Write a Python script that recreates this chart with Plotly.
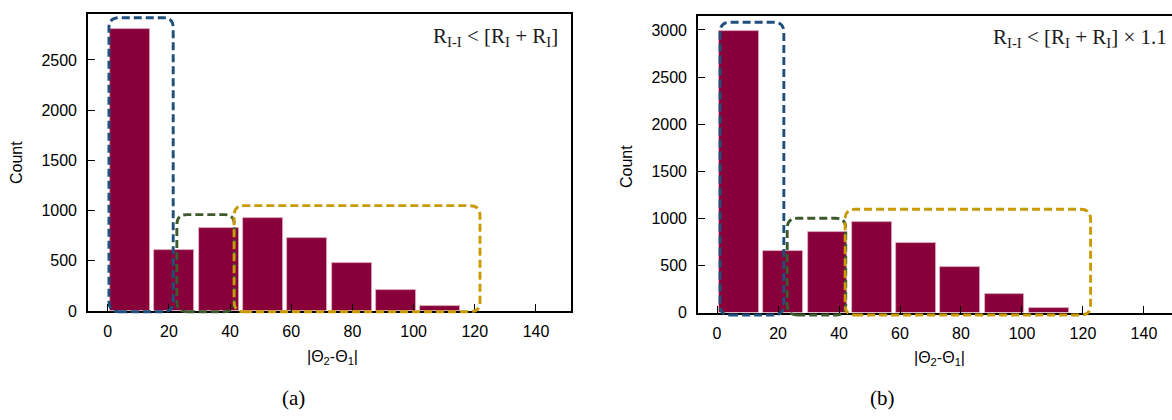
import plotly.graph_objects as go

# Histogram bins of |Θ2-Θ1| (bin width 14.5, occupied bins only)
bin_edges = [0, 14.5, 29, 43.5, 58, 72.5, 87, 101.5, 116]
counts_a = [2810, 612, 822, 929, 724, 481, 207, 48]
counts_b = [2990, 651, 850, 960, 742, 487, 201, 52]

x_ticks = [0, 20, 40, 60, 80, 100, 120, 140]
y_ticks_a = [0, 500, 1000, 1500, 2000, 2500]
y_ticks_b = [0, 500, 1000, 1500, 2000, 2500, 3000]

label_a = "R<sub>I-I</sub> < [R<sub>I</sub> + R<sub>I</sub>]"
label_b = "R<sub>I-I</sub> < [R<sub>I</sub> + R<sub>I</sub>] × 1.1"

# highlighted regions: (x0, x1, y0, y1) in data units, colour
regions_a = [
    ((0.4, 21.4, -8, 2921), "#1f4f7c"),
    ((22.6, 41.4, -8, 960), "#3c5a2c"),
    ((41.3, 121.7, -8, 1049), "#c99a06"),
]
regions_b = [
    ((1.0, 21.9, -27, 3082), "#1f4f7c"),
    ((23.0, 42.2, -27, 1000), "#3c5a2c"),
    ((42.0, 122.5, -27, 1096), "#c99a06"),
]

W, H = 1172, 420
BAR = "#87003a"
SANS = "Liberation Sans"
SERIF = "Liberation Serif"

centers = [(bin_edges[i] + bin_edges[i + 1]) / 2 for i in range(len(bin_edges) - 1)]
widths = [0.9 * (bin_edges[i + 1] - bin_edges[i]) for i in range(len(bin_edges) - 1)]

# panel geometry (paper fractions) and axis ranges
dom_a = dict(x=[88 / W, 571 / W], y=[(H - 311) / H, (H - 14) / H])
dom_b = dict(x=[698 / W, 1.0], y=[(H - 312.5) / H, (H - 16) / H])
xr_a = [-6.45, 151.45]
xr_b = [-6.25, 149.2]
yr_a = [0, 2958]
yr_b = [0, 3148]

fig = go.Figure()
bar_marker = dict(color=BAR, line=dict(color="#e3b2c5", width=0.8))
fig.add_trace(go.Bar(x=centers, y=counts_a, width=widths, marker=bar_marker,
                     xaxis="x", yaxis="y", showlegend=False))
fig.add_trace(go.Bar(x=centers, y=counts_b, width=widths, marker=bar_marker,
                     xaxis="x2", yaxis="y2", showlegend=False))

axis_common = dict(showgrid=False, zeroline=False, showline=True, linecolor="black", linewidth=1.6,
                   ticks="inside", ticklen=7, tickwidth=1.4, tickcolor="black", automargin=False,
                   tickfont=dict(family=SANS, size=16, color="black"))

fig.update_layout(
    template="none",
    width=W, height=H, margin=dict(l=0, r=0, t=0, b=0),
    paper_bgcolor="white", plot_bgcolor="white", bargap=0,
    xaxis=dict(domain=dom_a["x"], range=xr_a, tickvals=x_ticks, mirror=True, anchor="y", ticklabelstandoff=5, **axis_common),
    yaxis=dict(domain=dom_a["y"], range=yr_a, tickvals=y_ticks_a, mirror=True, anchor="x", ticklabelstandoff=6, **axis_common),
    xaxis2=dict(domain=dom_b["x"], range=xr_b, tickvals=x_ticks, mirror=True, anchor="y2", ticklabelstandoff=5, **axis_common),
    yaxis2=dict(domain=dom_b["y"], range=yr_b, tickvals=y_ticks_b, mirror=False, anchor="x2", ticklabelstandoff=6, **axis_common),
)


def to_paper(v, rng, dom):
    return dom[0] + (v - rng[0]) / (rng[1] - rng[0]) * (dom[1] - dom[0])


def rounded_box(box, xr, yr, dom, r_px=10):
    x0, x1, y0, y1 = box
    px0, px1 = to_paper(x0, xr, dom["x"]), to_paper(x1, xr, dom["x"])
    py0, py1 = to_paper(y0, yr, dom["y"]), to_paper(y1, yr, dom["y"])
    rx, ry = r_px / W, r_px / H
    return (f"M {px0 + rx},{py0} L {px1 - rx},{py0} Q {px1},{py0} {px1},{py0 + ry} "
            f"L {px1},{py1 - ry} Q {px1},{py1} {px1 - rx},{py1} "
            f"L {px0 + rx},{py1} Q {px0},{py1} {px0},{py1 - ry} "
            f"L {px0},{py0 + ry} Q {px0},{py0} {px0 + rx},{py0} Z")


for regions, xr, yr, dom in [(regions_a, xr_a, yr_a, dom_a), (regions_b, xr_b, yr_b, dom_b)]:
    for box, col in regions:
        fig.add_shape(type="path", xref="paper", yref="paper", path=rounded_box(box, xr, yr, dom),
                      line=dict(color=col, width=2.9, dash="8px,4px"), fillcolor="rgba(0,0,0,0)", layer="above")


def note(x_px, y_px, text, font, xanchor="center", angle=0):
    fig.add_annotation(x=x_px / W, y=1 - y_px / H, xref="paper", yref="paper", text=text,
                       xanchor=xanchor, yanchor="middle", textangle=angle, showarrow=False, font=font)


sans16 = dict(family=SANS, size=16, color="black")
# axis titles
for xc, yc in [(17, 163), (627, 167)]:
    note(xc, yc, "Count", sans16, angle=-90)
for xc, yc in [(332, 357), (939, 358)]:
    note(xc, yc, "|Θ<sub>2</sub>-Θ<sub>1</sub>|", sans16)

# condition labels
note(560, 37, label_a, dict(family=SERIF, size=21, color="#1a1a1a"), xanchor="right")
note(1169, 38, label_b, dict(family=SERIF, size=21, color="#1a1a1a"), xanchor="right")

# panel captions
for txt, xc in [("(a)", 293), ("(b)", 882)]:
    note(xc, 398, txt, dict(family=SERIF, size=21, color="black"))

fig.write_html("out.html")
